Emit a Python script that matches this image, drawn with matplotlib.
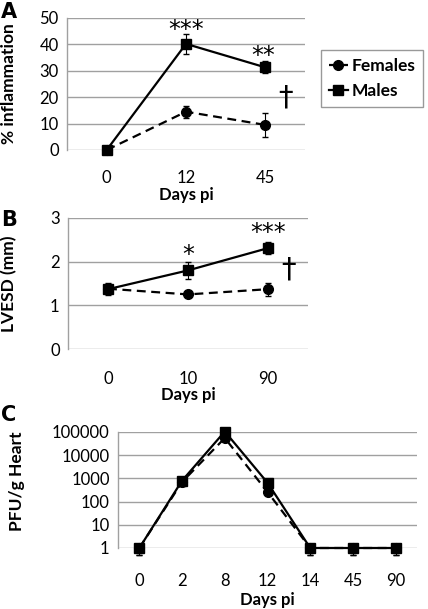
import numpy as np
import matplotlib
matplotlib.use('Agg')
import matplotlib.pyplot as plt
from matplotlib.lines import Line2D

plt.rcParams['font.family'] = ['Lato', 'DejaVu Sans']

# --- Panel A: % inflammation ---
a_days = ['0', '12', '45']
a_fem = [0, 14.5, 9.5]
a_fem_err = [0, 2.3, 4.7]
a_mal = [0, 40.2, 31.3]
a_mal_err = [0, 3.7, 2.3]

# --- Panel B: LVESD ---
b_days = ['0', '10', '90']
b_fem = [1.38, 1.25, 1.37]
b_fem_err = [0.1, 0.04, 0.15]
b_mal = [1.37, 1.8, 2.31]
b_mal_err = [0.14, 0.2, 0.14]

# --- Panel C: PFU/g heart ---
c_days = ['0', '2', '8', '12', '14', '45', '90']
c_fem = [1, 700, 55000, 260, 1, 1, 1]
c_fem_err = [0.5, 100, 10000, 60, 0.5, 0.5, 0.5]
c_mal = [1, 800, 105000, 650, 1, 1, 1]
c_mal_err = [0.5, 100, 15000, 100, 0.5, 0.5, 0.5]

W, H = 428, 609
fig = plt.figure(figsize=(W / 100, H / 100), dpi=100)
fig.patch.set_facecolor('white')

GRID = '#a0a0a0'


def px_axes(left, top, right, bottom):
    return fig.add_axes([left / W, 1 - bottom / H, (right - left) / W, (bottom - top) / H])


def style(ax, cats, pad):
    n = len(cats)
    ax.set_xlim(-0.5, n - 0.5)
    ax.set_xticks(range(n))
    ax.set_xticklabels(cats)
    for s in ['top', 'right', 'bottom']:
        ax.spines[s].set_visible(False)
    ax.spines['left'].set_color(GRID)
    ax.spines['left'].set_linewidth(1)
    ax.yaxis.grid(True, color=GRID, linewidth=1)
    ax.set_axisbelow(True)
    ax.tick_params(axis='both', length=0, labelsize=12)
    ax.tick_params(axis='x', pad=pad)
    ax.tick_params(axis='y', pad=6)


def draw(ax, fem, fem_err, mal, mal_err, ms=7):
    x = np.arange(len(fem))
    ax.errorbar(x, fem, yerr=fem_err, color='black', linestyle='--', linewidth=1.6,
                marker='o', markersize=ms, ecolor='black', elinewidth=0.8,
                capsize=2, dashes=(4, 2.5), clip_on=False, zorder=3)
    ax.errorbar(x, mal, yerr=mal_err, color='black', linestyle='-', linewidth=1.6,
                marker='s', markersize=ms, ecolor='black', elinewidth=0.8,
                capsize=2, clip_on=False, zorder=4)


# Panel A
axA = px_axes(67, 18, 305, 150)
draw(axA, a_fem, a_fem_err, a_mal, a_mal_err)
style(axA, a_days, 14.5)
axA.set_ylim(0, 50)
axA.set_yticks([0, 10, 20, 30, 40, 50])
axA.set_ylabel('% inflammation', fontsize=12.5, fontweight='bold')
axA.yaxis.set_label_coords(-0.21, 0.5)
axA.set_xlabel('Days pi', fontsize=12, fontweight='bold', labelpad=0.5)
axA.text(1, 45.5, '***', ha='center', va='center', fontsize=17, family='DejaVu Sans')
axA.text(1.97, 35.5, '**', ha='center', va='center', fontsize=17, family='DejaVu Sans')
axA.text(2.26, 20, '†', ha='center', va='center', fontsize=21, family='DejaVu Sans')

# Panel B
axB = px_axes(68, 218, 308, 349)
draw(axB, b_fem, b_fem_err, b_mal, b_mal_err)
style(axB, b_days, 16)
axB.set_ylim(0, 3)
axB.set_yticks([0, 1, 2, 3])
axB.set_ylabel('LVESD (mm)', fontsize=12.5, fontweight='bold')
axB.yaxis.set_label_coords(-0.21, 0.5)
axB.set_xlabel('Days pi', fontsize=12, fontweight='bold', labelpad=0)
axB.text(1, 2.15, '*', ha='center', va='center', fontsize=17, family='DejaVu Sans')
axB.text(2, 2.65, '***', ha='center', va='center', fontsize=17, family='DejaVu Sans')
axB.text(2.26, 1.81, '†', ha='center', va='center', fontsize=21, family='DejaVu Sans')

# Panel C
axC = px_axes(118, 432, 417, 548)
draw(axC, c_fem, c_fem_err, c_mal, c_mal_err)
style(axC, c_days, 18)
axC.set_yscale('log')
axC.set_ylim(1, 1e5)
yt = [1, 10, 100, 1000, 10000, 100000]
axC.set_yticks(yt)
axC.set_yticklabels([str(v) for v in yt])
axC.minorticks_off()
axC.set_ylabel('PFU/g Heart', fontsize=12.5, fontweight='bold')
axC.yaxis.set_label_coords(-0.31, 0.58)
axC.set_xlabel('Days pi', fontsize=12, fontweight='bold', labelpad=2.5)

# panel letters
for lab, yy in [('A', 12), ('B', 220), ('C', 415)]:
    fig.text(1 / W, 1 - yy / H, lab, fontsize=15, fontweight='bold',
             family='DejaVu Sans', ha='left', va='center')

# legend
handles = [
    Line2D([], [], color='black', linestyle='--', linewidth=1.6, marker='o', markersize=7),
    Line2D([], [], color='black', linestyle='-', linewidth=1.6, marker='s', markersize=7),
]
leg = fig.legend(handles, ['Females', 'Males'], loc='upper left',
                 bbox_to_anchor=(321 / W, 1 - 50 / H), frameon=True, fancybox=False,
                 handlelength=1.1, handletextpad=0.2, borderpad=0.45, labelspacing=0.55,
                 borderaxespad=0, prop={'weight': 'bold', 'size': 12.5})
leg.get_frame().set_edgecolor('#808080')
leg.get_frame().set_linewidth(1)

fig.savefig('out.png', dpi=100)
